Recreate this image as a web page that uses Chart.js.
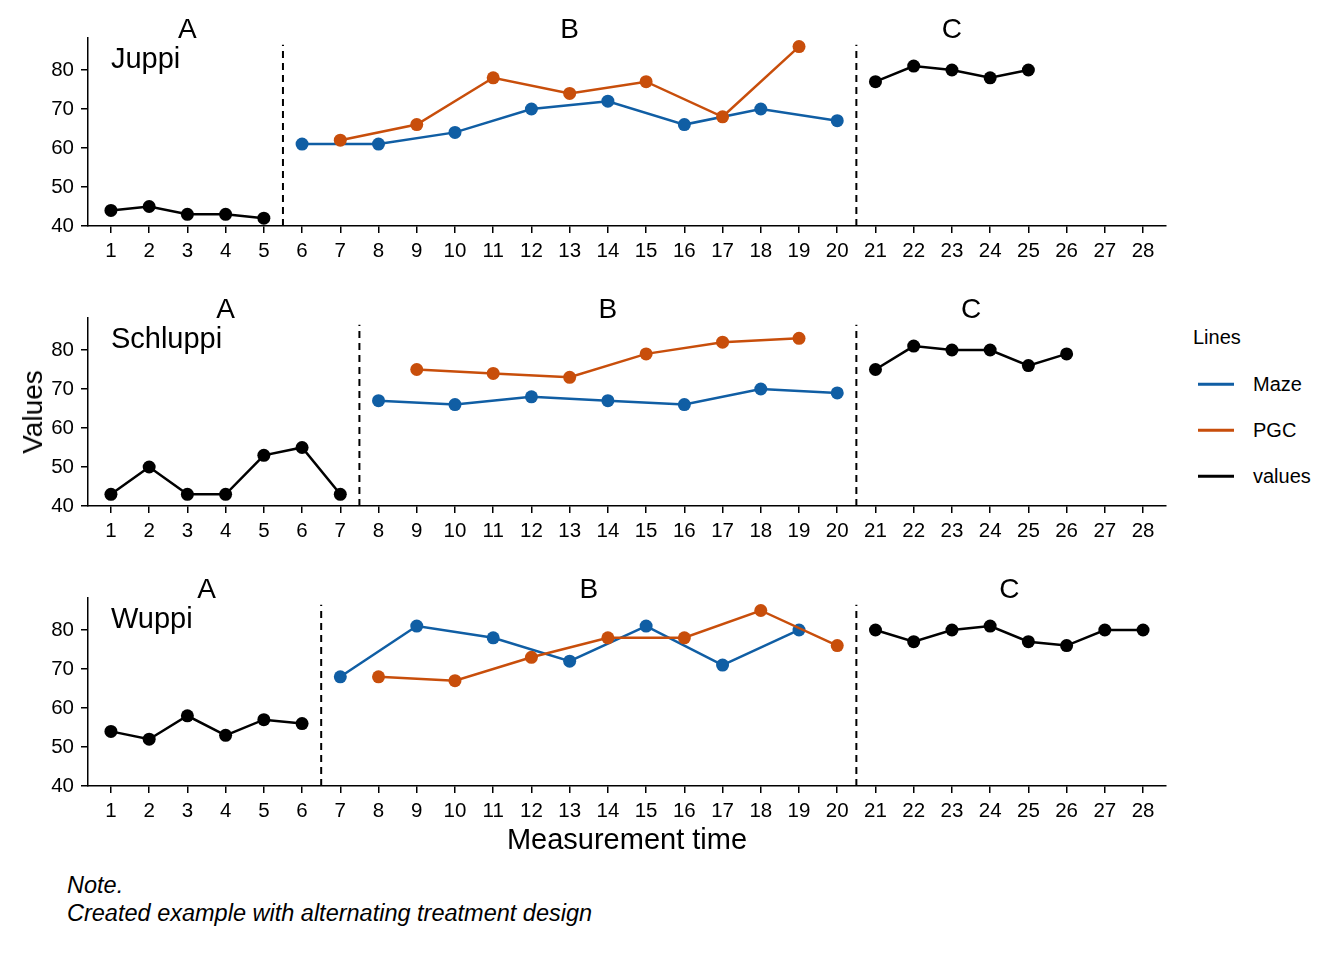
<!DOCTYPE html>
<html>
<head>
<meta charset="utf-8">
<script src="https://cdn.jsdelivr.net/npm/chart.js@4"></script>
<style>
  body { margin: 0; background: #fff; font-family: "Liberation Sans", Arial, sans-serif; color: #000; }
  #page { position: relative; width: 1344px; height: 960px; overflow: hidden; }
  canvas.panel { position: absolute; left: 0; }
  .txt { position: absolute; white-space: nowrap; }
  #ytitle { left: 33px; top: 412px; font-size: 28px; transform: translate(-50%, -50%) rotate(-90deg); }
  #xtitle { left: 627px; top: 839px; font-size: 29px; transform: translate(-50%, -50%); }
  #legend .txt { font-size: 20px; transform: translateY(-50%); }
  #legend .key { position: absolute; left: 1198px; width: 36px; height: 2.5px; transform: translateY(-50%); }
  #note { left: 67px; top: 871px; font-size: 23.5px; line-height: 28px; font-style: italic; }
</style>
</head>
<body>
<div id="page">
  <canvas id="juppi" class="panel" width="1180" height="270" style="top:0px"></canvas>
  <canvas id="schluppi" class="panel" width="1180" height="270" style="top:280px"></canvas>
  <canvas id="wuppi" class="panel" width="1180" height="270" style="top:560px"></canvas>

  <div id="ytitle" class="txt">Values</div>
  <div id="xtitle" class="txt">Measurement time</div>

  <div id="legend">
    <div class="txt" style="left:1193px; top:337px">Lines</div>
    <div class="key" style="top:384px; background:#105EA4"></div>
    <div class="txt" style="left:1253px; top:384px">Maze</div>
    <div class="key" style="top:430px; background:#C84E0B"></div>
    <div class="txt" style="left:1253px; top:430px">PGC</div>
    <div class="key" style="top:476px; background:#000"></div>
    <div class="txt" style="left:1253px; top:476px">values</div>
  </div>

  <div id="note" class="txt">Note.<br>Created example with alternating treatment design</div>
</div>

<script>
const measurementTimes = [1, 2, 3, 4, 5, 6, 7, 8, 9, 10, 11, 12, 13, 14, 15, 16, 17, 18, 19, 20, 21, 22, 23, 24, 25, 26, 27, 28];
const yTicks = [40, 50, 60, 70, 80];
const phaseNames = ["A", "B", "C"];

const mazeColor = "#105EA4";
const pgcColor = "#C84E0B";
const valuesColor = "#000000";
const FONT = "'Liberation Sans', Arial, sans-serif";

// Juppi
const juppiPhaseEnds = [5, 20, 25];
const juppiATimes = [1, 2, 3, 4, 5];
const juppiA = [44, 45, 43, 43, 42];
const juppiMazeTimes = [6, 8, 10, 12, 14, 16, 18, 20];
const juppiMaze = [61, 61, 64, 70, 72, 66, 70, 67];
const juppiPgcTimes = [7, 9, 11, 13, 15, 17, 19];
const juppiPgc = [62, 66, 78, 74, 77, 68, 86];
const juppiCTimes = [21, 22, 23, 24, 25];
const juppiC = [77, 81, 80, 78, 80];

// Schluppi
const schluppiPhaseEnds = [7, 20, 26];
const schluppiATimes = [1, 2, 3, 4, 5, 6, 7];
const schluppiA = [43, 50, 43, 43, 53, 55, 43];
const schluppiMazeTimes = [8, 10, 12, 14, 16, 18, 20];
const schluppiMaze = [67, 66, 68, 67, 66, 70, 69];
const schluppiPgcTimes = [9, 11, 13, 15, 17, 19];
const schluppiPgc = [75, 74, 73, 79, 82, 83];
const schluppiCTimes = [21, 22, 23, 24, 25, 26];
const schluppiC = [75, 81, 80, 80, 76, 79];

// Wuppi
const wuppiPhaseEnds = [6, 20, 28];
const wuppiATimes = [1, 2, 3, 4, 5, 6];
const wuppiA = [54, 52, 58, 53, 57, 56];
const wuppiMazeTimes = [7, 9, 11, 13, 15, 17, 19];
const wuppiMaze = [68, 81, 78, 72, 81, 71, 80];
const wuppiPgcTimes = [8, 10, 12, 14, 16, 18, 20];
const wuppiPgc = [68, 67, 73, 78, 78, 85, 76];
const wuppiCTimes = [21, 22, 23, 24, 25, 26, 27, 28];
const wuppiC = [80, 77, 80, 81, 77, 76, 80, 80];

function series(times, values, color) {
  return {
    data: times.map((t, i) => ({ x: t, y: values[i] })),
    borderColor: color,
    backgroundColor: color,
    borderWidth: 2.5,
    pointRadius: 6.5,
    pointHoverRadius: 6.5,
    pointBorderWidth: 0,
    tension: 0,
    clip: false
  };
}

// dashed phase lines, phase letters and the subject name
const phasePlugin = {
  id: "phases",
  beforeDatasetsDraw(chart, args, opts) {
    const { ctx, scales: { x, y } } = chart;
    ctx.save();
    ctx.strokeStyle = "#000";
    ctx.lineWidth = 2;
    ctx.setLineDash([7, 5]);
    opts.ends.slice(0, -1).forEach(end => {
      const px = x.getPixelForValue(end + 0.5);
      ctx.beginPath();
      ctx.moveTo(px, y.getPixelForValue(40));
      ctx.lineTo(px, y.getPixelForValue(86.5));
      ctx.stroke();
    });
    ctx.restore();
  },
  afterDatasetsDraw(chart, args, opts) {
    const { ctx, chartArea, scales: { x, y } } = chart;
    ctx.save();
    ctx.fillStyle = "#000";
    ctx.font = "28px " + FONT;
    ctx.textAlign = "center";
    ctx.textBaseline = "alphabetic";
    let start = 1;
    opts.ends.forEach((end, i) => {
      ctx.fillText(phaseNames[i], x.getPixelForValue((start + end) / 2), chartArea.top);
      start = end + 1;
    });
    ctx.font = "29px " + FONT;
    ctx.textAlign = "left";
    ctx.fillText(opts.name, x.getPixelForValue(1), y.getPixelForValue(80.4));
    ctx.restore();
  }
};

function makePanel(id, name, ends, a, maze, pgc, c) {
  new Chart(document.getElementById(id), {
    type: "line",
    data: {
      datasets: [
        series(a[0], a[1], valuesColor),
        series(c[0], c[1], valuesColor),
        series(pgc[0], pgc[1], pgcColor),
        series(maze[0], maze[1], mazeColor)
      ]
    },
    options: {
      responsive: false,
      animation: false,
      events: [],
      layout: { padding: { top: 38, right: 14, left: 0, bottom: 0 } },
      plugins: {
        legend: { display: false },
        tooltip: { enabled: false },
        phases: { ends: ends, name: name }
      },
      scales: {
        x: {
          type: "linear",
          min: 0.4,
          max: 28.6,
          afterBuildTicks: s => { s.ticks = measurementTimes.map(v => ({ value: v })); },
          afterFit: s => { s.height = 44; },
          border: { color: "#000", width: 1.5 },
          grid: { drawOnChartArea: false, drawTicks: true, tickLength: 7, color: "#000", lineWidth: 1.5 },
          ticks: { color: "#000", font: { size: 20.5, family: FONT }, padding: 6, autoSkip: false, maxRotation: 0, callback: v => String(v) }
        },
        y: {
          type: "linear",
          min: 40,
          max: 88.2,
          afterBuildTicks: s => { s.ticks = yTicks.map(v => ({ value: v })); },
          afterFit: s => { s.width = 88; },
          border: { color: "#000", width: 1.5 },
          grid: { drawOnChartArea: false, drawTicks: true, tickLength: 7, color: "#000", lineWidth: 1.5 },
          ticks: { color: "#000", font: { size: 20.5, family: FONT }, padding: 7, callback: v => String(v) }
        }
      }
    },
    plugins: [phasePlugin]
  });
}

makePanel("juppi", "Juppi", juppiPhaseEnds,
  [juppiATimes, juppiA], [juppiMazeTimes, juppiMaze], [juppiPgcTimes, juppiPgc], [juppiCTimes, juppiC]);
makePanel("schluppi", "Schluppi", schluppiPhaseEnds,
  [schluppiATimes, schluppiA], [schluppiMazeTimes, schluppiMaze], [schluppiPgcTimes, schluppiPgc], [schluppiCTimes, schluppiC]);
makePanel("wuppi", "Wuppi", wuppiPhaseEnds,
  [wuppiATimes, wuppiA], [wuppiMazeTimes, wuppiMaze], [wuppiPgcTimes, wuppiPgc], [wuppiCTimes, wuppiC]);
</script>
</body>
</html>
